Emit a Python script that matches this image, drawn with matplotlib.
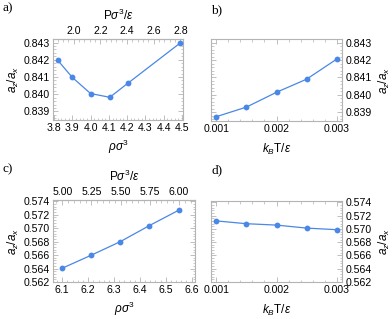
import matplotlib
matplotlib.use("Agg")
import matplotlib.pyplot as plt
from matplotlib.ticker import AutoMinorLocator

plt.rcParams["font.family"] = ["Liberation Sans", "DejaVu Sans"]
plt.rcParams["mathtext.fontset"] = "custom"
plt.rcParams["mathtext.rm"] = "Liberation Sans"
plt.rcParams["mathtext.it"] = "Liberation Sans:italic"
plt.rcParams["mathtext.fallback"] = "stixsans"

# -----------------------------
# Data
# -----------------------------
rho_a = [3.822, 3.90, 4.00, 4.105, 4.203, 4.49]
ratio_a = [0.84196, 0.84098, 0.84004, 0.83982, 0.84063, 0.84298]
press_ticks_a = [2.0, 2.2, 2.4, 2.6, 2.8]
# density <-> pressure anchors for the top axis
rho_anchor_a = (3.908, 4.491)
press_anchor_a = (2.0, 2.8)

temp_b = [0.001, 0.0015, 0.002, 0.0025, 0.003]
ratio_b = [0.83875, 0.8393, 0.84015, 0.8409, 0.84205]

rho_c = [6.100, 6.2115, 6.324, 6.437, 6.551]
ratio_c = [0.56406, 0.56598, 0.5680, 0.5704, 0.5727]
press_ticks_c = [5.00, 5.25, 5.50, 5.75, 6.00]
rho_anchor_c = (6.100, 6.551)
press_anchor_c = (5.00, 6.00)

temp_d = [0.001, 0.0015, 0.002, 0.0025, 0.003]
ratio_d = [0.57120, 0.57078, 0.57057, 0.57012, 0.56988]

# -----------------------------
# Style
# -----------------------------
BLUE = "#4a87e6"
FRAME = "#b4b4b4"
TICK_FS = 7.6
LABEL_FS = 8.5
W, H = 392, 319


def box(left, top, right, bottom):
    return [left / W, 1 - bottom / H, (right - left) / W, (bottom - top) / H]


def style_frame(ax):
    for s in ax.spines.values():
        s.set_color(FRAME)
        s.set_linewidth(0.8)
    ax.tick_params(which="both", direction="in", color=FRAME,
                   labelsize=TICK_FS, pad=2.5)
    ax.tick_params(which="major", length=3.5, width=0.6)
    ax.tick_params(which="minor", length=1.8, width=0.5)
    ax.xaxis.set_minor_locator(AutoMinorLocator(5))
    ax.yaxis.set_minor_locator(AutoMinorLocator(5))


def draw_series(ax, x, y):
    ax.plot(x, y, color=BLUE, lw=0.9, marker="o", ms=4.2,
            markeredgewidth=0, zorder=3)


def add_top_axis(ax, rho_anchor, press_anchor, ticks, fmt):
    r0, r1 = rho_anchor
    p0, p1 = press_anchor
    k = (p1 - p0) / (r1 - r0)
    top = ax.secondary_xaxis(
        "top",
        functions=(lambda r: p0 + (r - r0) * k, lambda p: r0 + (p - p0) / k),
    )
    top.set_xticks(ticks)
    top.set_xticklabels([fmt.format(t) for t in ticks])
    top.xaxis.set_minor_locator(AutoMinorLocator(5))
    top.spines["top"].set_color(FRAME)
    top.tick_params(which="both", direction="in", color=FRAME,
                    labelsize=TICK_FS, pad=2.5)
    top.tick_params(which="major", length=3.5, width=0.6)
    top.tick_params(which="minor", length=1.8, width=0.5)
    top.set_xlabel(r"P$\sigma^3/\epsilon$", fontsize=LABEL_FS, labelpad=4)
    return top


fig = plt.figure(figsize=(W / 100, H / 100), dpi=100)

# a)
ax_a = fig.add_axes(box(53, 39, 183, 120))
draw_series(ax_a, rho_a, ratio_a)
ax_a.set_xlim(3.795, 4.505)
ax_a.set_ylim(0.8385, 0.84321)
ax_a.set_xticks([3.8, 3.9, 4.0, 4.1, 4.2, 4.3, 4.4, 4.5])
ax_a.set_yticks([0.839, 0.840, 0.841, 0.842, 0.843])
style_frame(ax_a)
ax_a.tick_params(axis="x", which="both", top=False)
ax_a.tick_params(axis="y", which="both", right=True)
ax_a.set_xlabel(r"$\rho\sigma^3$", fontsize=LABEL_FS, labelpad=3)
ax_a.set_ylabel(r"$a_z/a_x$", fontsize=LABEL_FS, labelpad=2)
add_top_axis(ax_a, rho_anchor_a, press_anchor_a, press_ticks_a, "{:.1f}")

# b)
ax_b = fig.add_axes(box(211, 39, 342, 121))
draw_series(ax_b, temp_b, ratio_b)
ax_b.set_xlim(0.00091, 0.00309)
ax_b.set_ylim(0.8385, 0.84321)
ax_b.set_xticks([0.001, 0.002, 0.003])
ax_b.set_xticklabels(["0.001", "0.002", "0.003"])
ax_b.set_yticks([0.839, 0.840, 0.841, 0.842, 0.843])
style_frame(ax_b)
ax_b.tick_params(axis="x", which="both", top=True)
ax_b.tick_params(axis="y", which="both", left=True, right=True,
                 labelleft=False, labelright=True)
ax_b.yaxis.set_label_position("right")
ax_b.set_xlabel(r"$k_B$T$/\epsilon$", fontsize=LABEL_FS, labelpad=5)
ax_b.set_ylabel(r"$a_z/a_x$", fontsize=LABEL_FS, labelpad=4)

# c)
ax_c = fig.add_axes(box(53, 200, 195, 282))
draw_series(ax_c, rho_c, ratio_c)
ax_c.set_xlim(6.064, 6.613)
ax_c.set_ylim(0.562, 0.5742)
ax_c.set_xticks([6.1, 6.2, 6.3, 6.4, 6.5, 6.6])
ax_c.set_yticks([0.562, 0.564, 0.566, 0.568, 0.570, 0.572, 0.574])
style_frame(ax_c)
ax_c.tick_params(axis="x", which="both", top=False)
ax_c.tick_params(axis="y", which="both", right=True)
ax_c.set_xlabel(r"$\rho\sigma^3$", fontsize=LABEL_FS, labelpad=3)
ax_c.set_ylabel(r"$a_z/a_x$", fontsize=LABEL_FS, labelpad=2)
add_top_axis(ax_c, rho_anchor_c, press_anchor_c, press_ticks_c, "{:.2f}")

# d)
ax_d = fig.add_axes(box(211, 201, 342, 282))
draw_series(ax_d, temp_d, ratio_d)
ax_d.set_xlim(0.00091, 0.00309)
ax_d.set_ylim(0.562, 0.5742)
ax_d.set_xticks([0.001, 0.002, 0.003])
ax_d.set_xticklabels(["0.001", "0.002", "0.003"])
ax_d.set_yticks([0.562, 0.564, 0.566, 0.568, 0.570, 0.572, 0.574])
style_frame(ax_d)
ax_d.tick_params(axis="x", which="both", top=True)
ax_d.tick_params(axis="y", which="both", left=True, right=True,
                 labelleft=False, labelright=True)
ax_d.yaxis.set_label_position("right")
ax_d.set_xlabel(r"$k_B$T$/\epsilon$", fontsize=LABEL_FS, labelpad=5)
ax_d.set_ylabel(r"$a_z/a_x$", fontsize=LABEL_FS, labelpad=4)

# panel letters
for txt, x, y in [("a)", 8, 8), ("b)", 217, 10), ("c)", 8, 169), ("d)", 217, 170)]:
    fig.text(x / W, 1 - y / H, txt, family="Liberation Serif", fontsize=9.5,
             ha="center", va="center")

fig.savefig("out.png", dpi=100)
